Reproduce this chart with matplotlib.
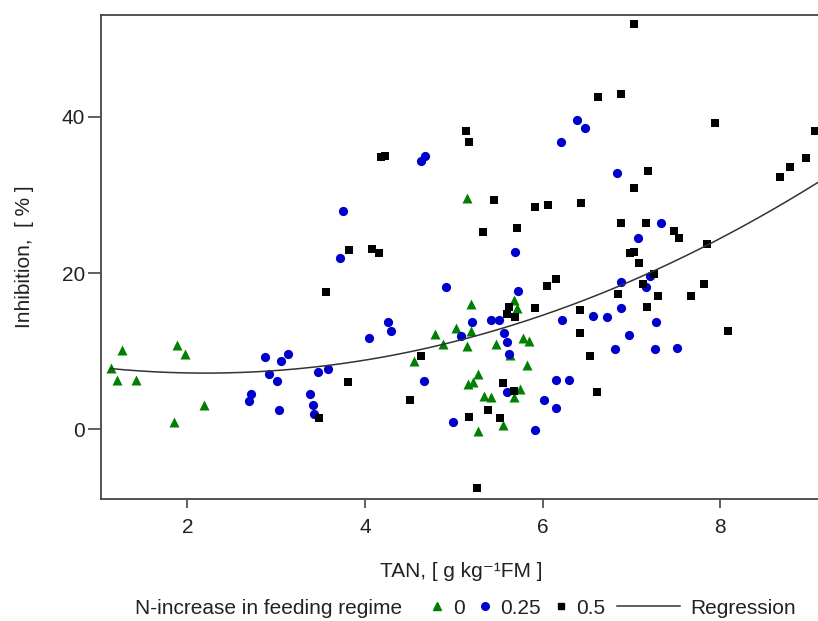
import numpy as np
import matplotlib
matplotlib.use("Agg")
import matplotlib.pyplot as plt
from matplotlib.lines import Line2D

plt.rcParams["font.family"] = ["Liberation Sans", "DejaVu Sans"]

# TAN [g/kg FM] and inhibition [%] per N-increase level
tan_0 = [1.14, 1.27, 1.21, 1.42, 1.88, 1.97, 1.85, 2.19, 5.15, 5.19, 5.03,
         5.19, 4.79, 5.68, 5.71, 4.88, 5.15, 5.48, 5.78, 5.85, 5.63, 4.55,
         5.83, 5.27, 5.16, 5.22, 5.34, 5.42, 5.75, 5.68, 5.56, 5.27]
inh_0 = [7.9, 10.1, 6.3, 6.3, 10.8, 9.6, 0.9, 3.1, 29.6, 16.0, 13.0,
         12.6, 12.2, 16.6, 15.5, 10.9, 10.7, 10.9, 11.7, 11.3, 9.5, 8.8,
         8.3, 7.1, 5.8, 6.1, 4.3, 4.2, 5.2, 4.2, 0.6, -0.2]

tan_25 = [4.68, 4.63, 6.39, 6.48, 6.21, 6.84, 3.75, 3.72, 5.69, 4.91, 5.72,
          5.21, 5.42, 5.51, 6.22, 4.26, 4.29, 4.05, 5.08, 5.57, 7.33, 7.08,
          7.21, 6.88, 7.17, 6.88, 6.57, 6.73, 7.28, 6.97, 2.87, 3.05, 3.13,
          2.92, 3.01, 2.72, 2.70, 3.03, 3.47, 3.58, 3.38, 3.42, 3.43, 5.60,
          5.62, 4.66, 5.60, 4.99, 5.92, 6.02, 6.15, 6.15, 6.30, 6.82, 7.27,
          7.51]
inh_25 = [35.0, 34.3, 39.6, 38.5, 36.8, 32.8, 27.9, 21.9, 22.7, 18.2, 17.7,
          13.8, 14.0, 14.0, 14.0, 13.8, 12.6, 11.7, 12.0, 12.3, 26.4, 24.5,
          19.6, 18.9, 18.2, 15.5, 14.5, 14.4, 13.8, 12.1, 9.2, 8.7, 9.7,
          7.1, 6.2, 4.5, 3.6, 2.5, 7.4, 7.7, 4.5, 3.1, 2.0, 11.2,
          9.7, 6.2, 4.8, 1.0, -0.1, 3.7, 2.8, 6.3, 6.3, 10.3, 10.3,
          10.4]

tan_5 = [4.18, 4.23, 5.14, 5.17, 7.03, 6.63, 6.88, 7.94, 9.07, 8.97, 8.79,
         8.67, 7.19, 3.56, 3.82, 5.45, 5.92, 6.06, 6.43, 5.33, 5.71, 4.08,
         4.16, 6.15, 6.05, 5.62, 5.60, 5.69, 5.92, 6.42, 6.42, 7.03, 6.88,
         7.17, 7.48, 7.54, 7.85, 6.98, 7.03, 7.09, 7.26, 7.13, 6.85, 7.30,
         7.18, 7.82, 7.67, 8.09, 3.48, 3.81, 4.63, 4.51, 5.55, 5.68, 5.39,
         5.17, 5.52, 5.26, 6.53, 6.61]
inh_5 = [34.8, 35.0, 38.2, 36.7, 51.8, 42.5, 42.9, 39.2, 38.2, 34.7, 33.5,
         32.3, 33.1, 17.6, 23.0, 29.4, 28.5, 28.7, 28.9, 25.3, 25.7, 23.1,
         22.6, 19.3, 18.4, 15.7, 14.7, 14.4, 15.5, 15.3, 12.3, 30.9, 26.4,
         26.4, 25.4, 24.5, 23.7, 22.5, 22.7, 21.3, 19.9, 18.6, 17.3, 17.0,
         15.7, 18.6, 17.0, 12.6, 1.4, 6.1, 9.4, 3.7, 5.9, 4.9, 2.5,
         1.6, 1.4, -7.5, 9.4, 4.8]

# quadratic regression: a*x^2 + b*x + c
reg_coef = [0.512, -2.253, 9.68]

GREEN = "#008000"
BLUE = "#0000cd"
TXT = "#222222"
SPINE = "#444444"
FS = 15

fig = plt.figure(figsize=(8.18, 6.21), dpi=100)
ax = fig.add_axes([101 / 818, 122 / 621, 721 / 818, 484 / 621])

ax.scatter(tan_0, inh_0, marker="^", s=52, color=GREEN, linewidths=0, zorder=3)
ax.scatter(tan_25, inh_25, marker="o", s=44, color=BLUE, linewidths=0, zorder=3)
ax.scatter(tan_5, inh_5, marker="s", s=40, color="black", linewidths=0, zorder=3)

xr = np.linspace(min(tan_0), 9.2, 200)
ax.plot(xr, np.polyval(reg_coef, xr), color="#333333", lw=1.1, zorder=4)

ax.set_xlim(1.028, 9.147)
ax.set_ylim(-8.9, 53.0)
ax.set_xticks([2, 4, 6, 8])
ax.set_yticks([0, 20, 40])
ax.tick_params(direction="out", width=1.2, color=SPINE,
               labelsize=FS, labelcolor=TXT)
ax.tick_params(axis="x", length=6.5, pad=7)
ax.tick_params(axis="y", length=9.5, pad=2)
for side in ["left", "bottom", "top", "right"]:
    ax.spines[side].set_color(SPINE)
    ax.spines[side].set_linewidth(1.3)

ax.set_xlabel("TAN, [ g kg\u207b\u00b9FM ]", fontsize=FS, color=TXT,
              labelpad=18)
ax.set_ylabel("Inhibition,  [ % ]", fontsize=FS, color=TXT, labelpad=20)

leg_y = 1 - 608 / 621
fig.text(135 / 818, leg_y, "N-increase in feeding regime",
         fontsize=FS, color=TXT, va="center", ha="left")

marker_handles = [
    Line2D([], [], marker="^", ls="none", color=GREEN, markersize=6),
    Line2D([], [], marker="o", ls="none", color=BLUE, markersize=5.5),
    Line2D([], [], marker="s", ls="none", color="black", markersize=5),
]
fig.legend(marker_handles, ["0", "0.25", "0.5"], loc="center left",
           bbox_to_anchor=(427 / 818, leg_y), ncol=3, frameon=False,
           fontsize=FS, labelcolor=TXT, handlelength=1.0,
           handletextpad=0.25, columnspacing=0.45,
           borderaxespad=0, borderpad=0)
fig.legend([Line2D([], [], color="#333333", lw=1.1)], ["Regression"],
           loc="center left", bbox_to_anchor=(617 / 818, leg_y), frameon=False,
           fontsize=FS, labelcolor=TXT, handlelength=3.0, handletextpad=0.5,
           borderaxespad=0, borderpad=0)

fig.savefig("out.png", dpi=100)
